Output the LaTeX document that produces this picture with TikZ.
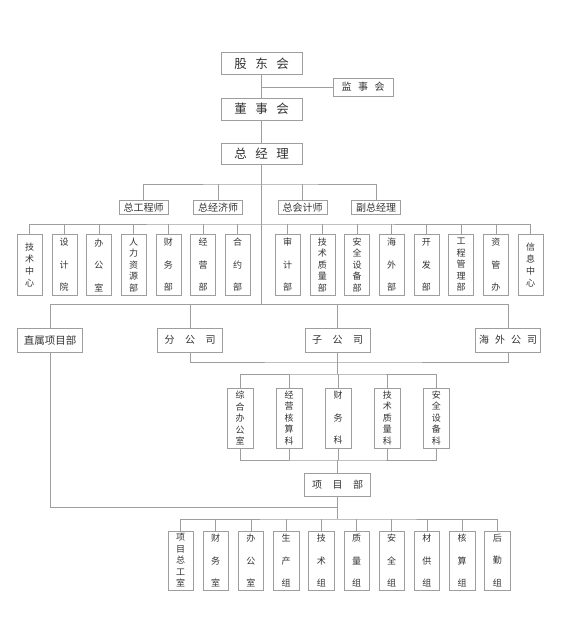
\documentclass[tikz,border=0pt]{standalone}
\usepackage{fontspec}
\newfontfamily\cjk{Noto Sans CJK SC}
\usetikzlibrary{positioning, calc}
\definecolor{lngray}{gray}{0.62}

\begin{document}
\begin{tikzpicture}[x=1pt, y=-1pt,
    node distance=9.3pt,
    ln/.style={draw=lngray, line width=0.5pt},
    top/.style={draw=lngray, fill=white, minimum width=81pt, minimum height=22pt, inner sep=0pt, text=black!80, font=\cjk\fontsize{12.5}{14}\selectfont},
    mid/.style={draw=lngray, fill=white, minimum width=49pt, minimum height=14pt, inner sep=0pt, text=black!80, font=\cjk\fontsize{10}{12}\selectfont},
    sub/.style={draw=lngray, fill=white, minimum width=65pt, minimum height=24pt, inner sep=0pt, text=black!80, font=\cjk\fontsize{10}{12}\selectfont},
    vb/.style={draw=lngray, fill=white, minimum width=25pt, minimum height=61pt, inner sep=0pt, align=center, text=black!80, font=\cjk\fontsize{9}{11.5}\selectfont},
    vbm/.style={vb, font=\cjk\fontsize{9}{12}\selectfont},
    vbw/.style={vb, font=\cjk\fontsize{9}{22.5}\selectfont}]
  \useasboundingbox (0,0) rectangle (560,640);
  % top of the chart
  \node[top] (GD) at (261.5,63.5) {股\hspace{8.5pt}东\hspace{8.5pt}会};
  \node[top, minimum width=60pt, minimum height=18pt, font=\cjk\fontsize{10}{12}\selectfont] (JS) at (363,87) {监\hspace{6.5pt}事\hspace{6.5pt}会};
  \node[top] (DS) at (261.5,109) {董\hspace{8.5pt}事\hspace{8.5pt}会};
  \node[top, minimum height=21pt] (ZJL) at (261.5,153.5) {总\hspace{8.5pt}经\hspace{8.5pt}理};
  \draw[ln] (GD) -- (DS);
  \draw[ln] (DS) -- (ZJL);
  \draw[ln] (JS.west -| GD.south) -- (JS.west);
  % chiefs
  \node[mid] (ZGCS) at (143.5,207.5) {总工程师};
  \node[mid] (ZJJS) at (218,207.5) {总经济师};
  \node[mid] (ZKJS) at (302.5,207.5) {总会计师};
  \node[mid] (FZJL) at (376,207.5) {副总经理};
  \coordinate (R1) at (261.5,184);
  \draw[ln] (ZGCS.north) |- (R1) -| (FZJL.north);
  \draw[ln] (ZJJS.north) -- (ZJJS.north |- R1);
  \draw[ln] (ZKJS.north) -- (ZKJS.north |- R1);
  % departments
  \node[vbm] (D1) at (29.5,265) {技\\术\\中\\心};
  \node[vbw, right=of D1] (D2) {设\\计\\院};
  \node[vbw, right=of D2] (D3) {办\\公\\室};
  \node[vb, right=of D3] (D4) {人\\力\\资\\源\\部};
  \node[vbw, right=of D4] (D5) {财\\务\\部};
  \node[vbw, right=of D5] (D6) {经\\营\\部};
  \node[vbw, right=of D6] (D7) {合\\约\\部};
  \node[vbw, right=24.5pt of D7] (D8) {审\\计\\部};
  \node[vb, right=of D8] (D9) {技\\术\\质\\量\\部};
  \node[vb, right=of D9] (D10) {安\\全\\设\\备\\部};
  \node[vbw, right=of D10] (D11) {海\\外\\部};
  \node[vbw, right=of D11] (D12) {开\\发\\部};
  \node[vb, right=of D12] (D13) {工\\程\\管\\理\\部};
  \node[vbw, right=of D13] (D14) {资\\管\\办};
  \node[vbm, right=of D14] (D15) {信\\息\\中\\心};
  \coordinate (R2) at (261.5,224);
  \draw[ln] (D1.north) |- (R2) -| (D15.north);
  \foreach \i in {2,...,14}
    \draw[ln] (D\i.north) -- (D\i.north |- R2);
  % companies
  \node[sub, font=\cjk\fontsize{10.5}{12}\selectfont] (ZSXM) at (50,340) {直属项目部};
  \node[sub] (FGS) at (190,340) {分\hspace{10.5pt}公\hspace{10.5pt}司};
  \node[sub] (ZGS) at (337.5,340) {子\hspace{10.5pt}公\hspace{10.5pt}司};
  \node[sub] (HWGS) at (508,340) {海\hspace{6pt}外\hspace{6pt}公\hspace{6pt}司};
  \coordinate (R3) at (261.5,304.5);
  \draw[ln] (ZJL) -- (R3);
  \draw[ln] (ZSXM.north) |- (R3) -| (HWGS.north);
  \draw[ln] (FGS.north) -- (FGS.north |- R3);
  \draw[ln] (ZGS.north) -- (ZGS.north |- R3);
  \coordinate (R4) at (337.5,362);
  \draw[ln] (FGS.south) |- (R4) -| (HWGS.south);
  % sections
  \node[vb, minimum width=26pt, minimum height=60pt] (K1) at (240,418) {综\\合\\办\\公\\室};
  \node[vb, minimum width=26pt, minimum height=60pt, right=22.7pt of K1] (K2) {经\\营\\核\\算\\科};
  \node[vbw, minimum width=26pt, minimum height=60pt, right=22.7pt of K2] (K3) {财\\务\\科};
  \node[vb, minimum width=26pt, minimum height=60pt, right=22.7pt of K3] (K4) {技\\术\\质\\量\\科};
  \node[vb, minimum width=26pt, minimum height=60pt, right=22.7pt of K4] (K5) {安\\全\\设\\备\\科};
  \coordinate (R5) at (337.5,374);
  \coordinate (R6) at (337.5,460);
  \draw[ln] (ZGS) -- (R5);
  \draw[ln] (K1.north) |- (R5) -| (K5.north);
  \draw[ln] (K1.south) |- (R6) -| (K5.south);
  \foreach \i in {2,3,4} {
    \draw[ln] (K\i.north) -- (K\i.north |- R5);
    \draw[ln] (K\i.south) -- (K\i.south |- R6);
  }
  % project department
  \node[top, minimum width=66pt, minimum height=23pt, font=\cjk\fontsize{10}{12}\selectfont] (XMB) at (337.5,484.5) {项\hspace{10.5pt}目\hspace{10.5pt}部};
  \draw[ln] (R6) -- (XMB);
  \coordinate (R7) at (337.5,507);
  \coordinate (R8) at (337.5,519);
  \draw[ln] (ZSXM.south) |- (R7);
  \draw[ln] (XMB) -- (R8);
  % groups
  \node[vb, minimum width=25.5pt, minimum height=59pt] (G1) at (180.5,560.5) {项\\目\\总\\工\\室};
  \node[vbw, minimum width=25.5pt, minimum height=59pt, right=of G1] (G2) {财\\务\\室};
  \node[vbw, minimum width=25.5pt, minimum height=59pt, right=of G2] (G3) {办\\公\\室};
  \node[vbw, minimum width=25.5pt, minimum height=59pt, right=of G3] (G4) {生\\产\\组};
  \node[vbw, minimum width=25.5pt, minimum height=59pt, right=of G4] (G5) {技\\术\\组};
  \node[vbw, minimum width=25.5pt, minimum height=59pt, right=of G5] (G6) {质\\量\\组};
  \node[vbw, minimum width=25.5pt, minimum height=59pt, right=of G6] (G7) {安\\全\\组};
  \node[vbw, minimum width=25.5pt, minimum height=59pt, right=of G7] (G8) {材\\供\\组};
  \node[vbw, minimum width=25.5pt, minimum height=59pt, right=of G8] (G9) {核\\算\\组};
  \node[vbw, minimum width=25.5pt, minimum height=59pt, right=of G9] (G10) {后\\勤\\组};
  \draw[ln] (G1.north) |- (R8) -| (G10.north);
  \foreach \i in {2,...,9}
    \draw[ln] (G\i.north) -- (G\i.north |- R8);
\end{tikzpicture}
\end{document}
